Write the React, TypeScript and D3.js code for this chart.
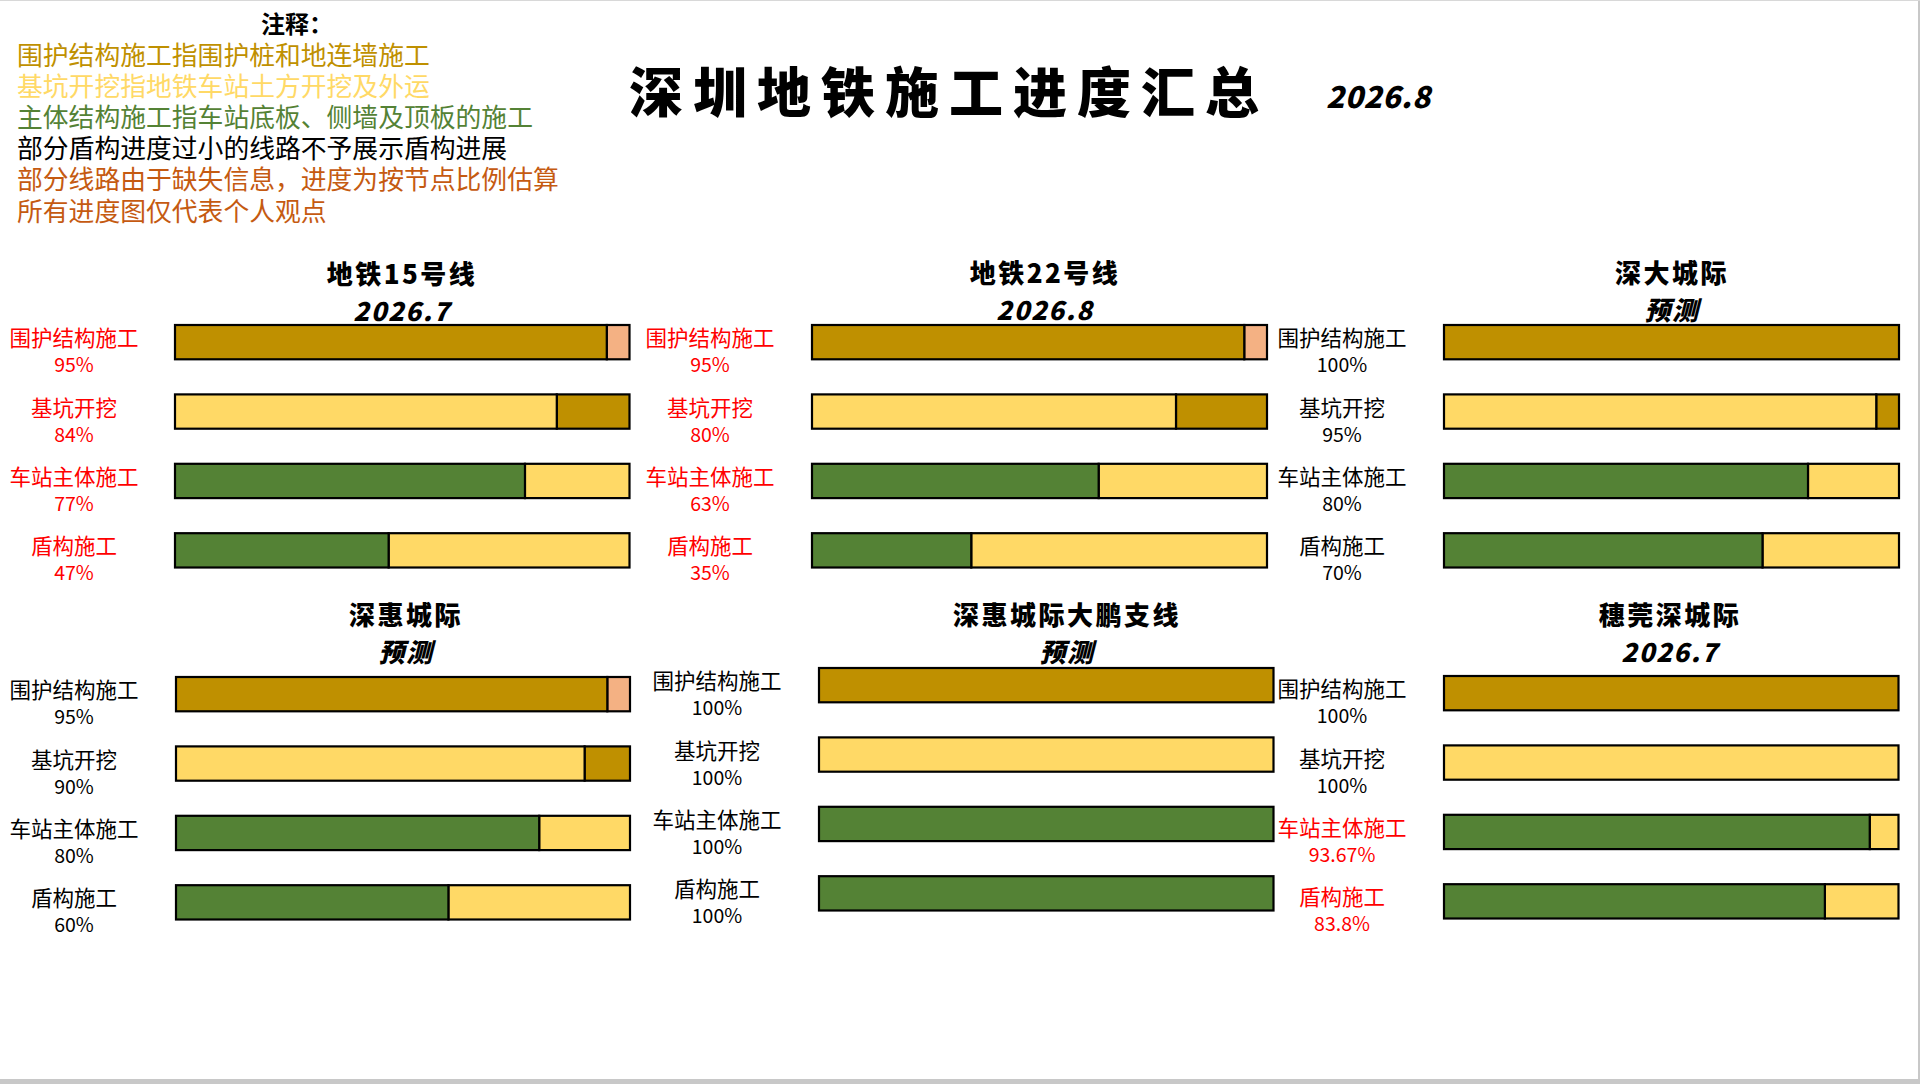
import * as d3 from 'd3';

const STAGES = ['围护结构施工', '基坑开挖', '车站主体施工', '盾构施工'];

const LINE_NAMES = ['地铁15号线', '地铁22号线', '深大城际', '深惠城际', '深惠城际大鹏支线', '穗莞深城际'];
const LINE_NOTES = ['2026.7', '2026.8', '预测', '预测', '预测', '2026.7'];

// progress per line, in STAGES order (%)
const PROGRESS = [
  [95, 84, 77, 47],
  [95, 80, 63, 35],
  [100, 95, 80, 70],
  [95, 90, 80, 60],
  [100, 100, 100, 100],
  [100, 100, 93.67, 83.8],
];

// which labels are drawn in red
const HIGHLIGHT = [
  [true, true, true, true],
  [true, true, true, true],
  [false, false, false, false],
  [false, false, false, false],
  [false, false, false, false],
  [false, false, true, true],
];

const NOTES = [
  '围护结构施工指围护桩和地连墙施工',
  '基坑开挖指地铁车站土方开挖及外运',
  '主体结构施工指车站底板、侧墙及顶板的施工',
  '部分盾构进度过小的线路不予展示盾构进展',
  '部分线路由于缺失信息，进度为按节点比例估算',
  '所有进度图仅代表个人观点',
];

const C = {
  gold: '#BF9000',
  salmon: '#F4B183',
  yellow: '#FFD966',
  green: '#548235',
  red: '#FF0000',
  orange: '#C55A11',
};

const NOTE_COLORS = [C.gold, C.yellow, C.green, '#000000', C.orange, C.orange];
const DONE_FILL = [C.gold, C.yellow, C.green, C.green];
const REST_FILL = [C.salmon, C.gold, C.yellow, C.yellow];

// panel placement on the 1920x1084 slide
const PANELS = [
  { labelX: 74, x0: 175, x1: 629.5, top: 325, titleX: 402, titleY: 272 },
  { labelX: 710, x0: 812, x1: 1267, top: 325, titleX: 1045, titleY: 271 },
  { labelX: 1342, x0: 1444, x1: 1899, top: 325, titleX: 1672, titleY: 271 },
  { labelX: 74, x0: 176, x1: 630, top: 677, titleX: 406, titleY: 613 },
  { labelX: 717, x0: 819, x1: 1273.5, top: 668, titleX: 1067, titleY: 613 },
  { labelX: 1342, x0: 1444, x1: 1898.5, top: 676, titleX: 1670, titleY: 613 },
];

const ROW_STEP = 69.4;
const BAR_H = 34.3;

const SANS = '"Noto Sans CJK SC", "Noto Sans", sans-serif';
const BRUSH = '"Noto Sans CJK SC", "Noto Sans", sans-serif';

function Panel({ idx }: { idx: number }) {
  const p = PANELS[idx];
  const x = d3.scaleLinear().domain([0, 100]).range([p.x0, p.x1]);
  const y = d3
    .scalePoint<string>()
    .domain(STAGES)
    .range([p.top, p.top + ROW_STEP * (STAGES.length - 1)]);

  return (
    <g>
      <text x={p.titleX} y={p.titleY} textAnchor="middle" dominantBaseline="central"
        fontFamily={BRUSH} fontWeight={900} fontSize={26} letterSpacing={2.5} fill="#000">
        {LINE_NAMES[idx]}
      </text>
      <text x={p.titleX} y={p.titleY + 37} textAnchor="middle" dominantBaseline="central"
        fontFamily={BRUSH} fontWeight={900} fontStyle="italic" fontSize={26} letterSpacing={1.5} fill="#000">
        {LINE_NOTES[idx]}
      </text>

      {STAGES.map((stage, si) => {
        const v = PROGRESS[idx][si];
        const top = y(stage) ?? 0;
        const color = HIGHLIGHT[idx][si] ? C.red : '#000';
        return (
          <g key={stage}>
            {v < 100 && (
              <rect x={x(v)} y={top} width={x(100) - x(v)} height={BAR_H}
                fill={REST_FILL[si]} stroke="#000" strokeWidth={2.2} />
            )}
            <rect x={x(0)} y={top} width={x(v) - x(0)} height={BAR_H}
              fill={DONE_FILL[si]} stroke="#000" strokeWidth={2.2} />
            <text x={p.labelX} y={top + BAR_H / 2 - 5.5} textAnchor="middle" dominantBaseline="central"
              fontFamily={SANS} fontSize={21.5} fill={color}>
              {stage}
            </text>
            <text x={p.labelX} y={top + BAR_H / 2 + 21.5} textAnchor="middle" dominantBaseline="central"
              fontFamily={SANS} fontSize={19.5} fill={color}>
              {v}%
            </text>
          </g>
        );
      })}
    </g>
  );
}

export default function App() {
  return (
    <svg width={1920} height={1084} style={{ position: 'absolute', left: 0, top: 0, background: '#fff' }}>
      {/* slide edge */}
      <rect x={0} y={1079} width={1920} height={5} fill="#c8c8c8" />
      <rect x={1918} y={0} width={2} height={1084} fill="#c8c8c8" />
      <line x1={0} x2={1920} y1={0.5} y2={0.5} stroke="#d8d8d8" />

      {/* notes */}
      <text x={261} y={22.5} dominantBaseline="central" fontFamily={SANS} fontWeight={700} fontSize={24} fill="#000">
        注释：
      </text>
      {NOTES.map((t, i) => (
        <text key={t} x={17} y={53 + i * 31.2} dominantBaseline="central" fontFamily={SANS}
          fontSize={25.8} fill={NOTE_COLORS[i]}>
          {t}
        </text>
      ))}

      {/* main title */}
      <text x={629} y={89} dominantBaseline="central" fontFamily={BRUSH} fontWeight={900}
        fontSize={54} letterSpacing={10} fill="#000">
        深圳地铁施工进度汇总
      </text>
      <text x={1326} y={95} dominantBaseline="central" fontFamily={BRUSH} fontWeight={900}
        fontStyle="italic" fontSize={30} letterSpacing={0.5} fill="#000">
        2026.8
      </text>

      {PANELS.map((_, i) => (
        <Panel key={i} idx={i} />
      ))}
    </svg>
  );
}
